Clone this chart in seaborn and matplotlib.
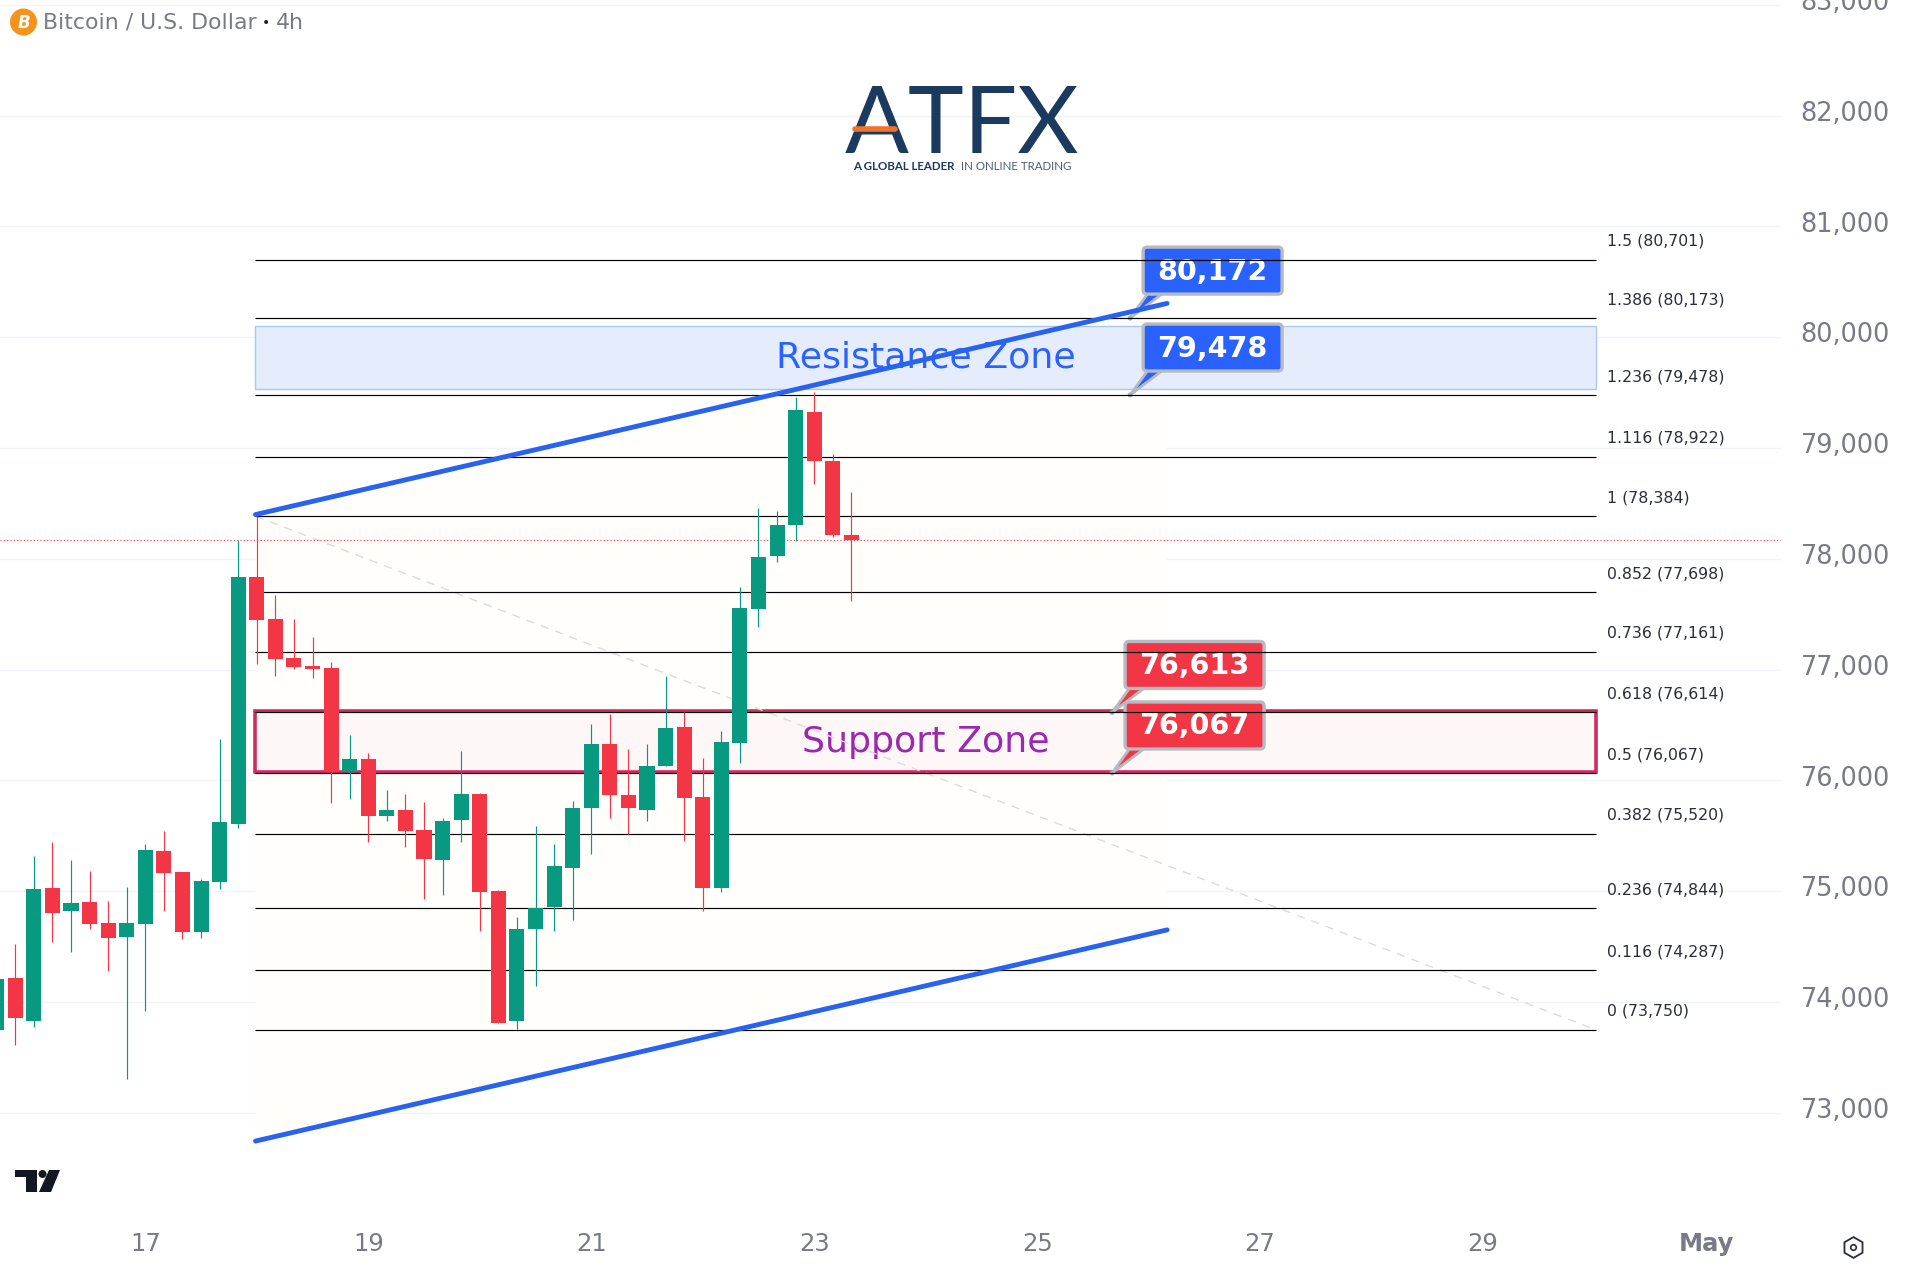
import matplotlib
matplotlib.use("Agg")
import matplotlib.pyplot as plt
import numpy as np
import pandas as pd
import seaborn as sns
from matplotlib.patches import FancyBboxPatch, Polygon, Circle, Rectangle
from matplotlib.lines import Line2D
from matplotlib.transforms import IdentityTransform, ScaledTranslation

# ---- data ----
bar_index = list(range(-8, 39))
opens = [73749,74217,73833,75028,74821,74901,74714,74588,74704,75362,75172,74631,75082,75606,77836,77456,77105,77032,
         77015,76073,76194,75679,75733,75553,75282,75643,75878,75005,73827,74657,74860,75213,75753,76332,75870,75737,
         76129,76485,75851,75025,76340,77546,78023,78309,79327,78885,78219]
closes = [74207,73860,75018,74804,74895,74704,74578,74714,75372,75165,74631,75092,75626,77836,77449,77095,77025,77005,
          76080,76194,75679,75733,75543,75292,75633,75876,74997,73815,74660,74848,75228,75753,76332,75866,75749,76133,
          76477,75839,75025,76348,77554,78012,78309,79339,78881,78211,78168]
highs = [74207,74527,75319,75442,75282,75182,74911,75038,75422,75543,75172,75112,76374,78167,78384,77673,77456,77295,
         77068,76411,76247,75913,75876,75806,75659,76267,75890,75010,74770,75592,75428,75815,76512,76602,76285,76332,
         76943,76614,76203,76450,77749,78454,78427,79460,79503,78944,78607]
lows = [73749,73616,73776,74544,74454,74661,74284,73309,73920,74821,74567,74578,75018,75573,77052,76945,77005,76925,
        75796,75833,75442,75633,75399,74928,74968,75442,74637,73807,73752,74140,74645,74743,75334,75659,75514,75635,
        76129,75451,74821,74997,76160,77385,77969,78157,78677,78196,77620]

fib_ratios = ["1.5","1.386","1.236","1.116","1","0.852","0.736","0.618","0.5","0.382","0.236","0.116","0"]
fib_prices = [80701,80173,79478,78922,78384,77698,77161,76614,76067,75520,74844,74287,73750]

day_ticks = [0,12,24,36,48,60,72,84]
day_labels = ["17","19","21","23","25","27","29","May"]
price_ticks = list(range(73000, 84000, 1000))

start_x, end_x, fib_end_x = 5.93, 54.99, 78.06
channel = pd.DataFrame({
    "x": [start_x, end_x, start_x, end_x],
    "y": [78399, 80305, 72745, 74651],
    "side": ["upper", "upper", "lower", "lower"],
})
resistance_zone = (79528, 80105)
support_zone = (76075, 76625)
last_price = 78168
callouts = [("80,172", 53.0, 80172, "#2962ff"), ("79,478", 53.0, 79478, "#2962ff"),
            ("76,613", 52.03, 76613, "#f23645"), ("76,067", 52.03, 76067, "#f23645")]

GREEN, RED, GREY, BLUE = "#089981", "#f23645", "#787b86", "#2962ff"

# ---- figure ----
sns.set_theme(style="white")
plt.rcParams["font.family"] = ["DejaVu Sans"]
W, H = 1926, 1279
fig = plt.figure(figsize=(W/100, H/100), dpi=100, facecolor="white")
ax = fig.add_axes([0, 1-1207/H, 1781/W, 1207/H])
ax.set_xlim(-7.82, 88.03)
ax.set_ylim(72150, 83043)
sns.despine(ax=ax, left=True, bottom=True, right=True, top=True)

ax.yaxis.tick_right()
ax.set_yticks(price_ticks)
ax.set_yticklabels([f"{p:,}" for p in price_ticks], color=GREY, fontsize=18.4)
ax.set_xticks(day_ticks)
ax.set_xticklabels(day_labels, color=GREY, fontsize=17.5)
ax.get_xticklabels()[-1].set_fontweight("bold")
ax.tick_params(axis="y", length=0, pad=14)
ax.tick_params(axis="x", length=0, pad=18)
shift_up = ScaledTranslation(0, 3.4/72, fig.dpi_scale_trans)
for lab in ax.get_yticklabels():
    lab.set_transform(lab.get_transform() + shift_up)
ax.grid(axis="y", color="#f0f3fa", lw=1.0, zorder=0)
ax.grid(axis="x", visible=False)
ax.set_axisbelow(True)

# channel background
u = channel[channel.side == "upper"]; l = channel[channel.side == "lower"]
ax.add_patch(Polygon(np.column_stack([list(u.x) + list(l.x)[::-1], list(u.y) + list(l.y)[::-1]]),
                     closed=True, fc="#fffefb", ec="none", zorder=1))

# zones
ax.add_patch(Rectangle((start_x, resistance_zone[0]), fib_end_x-start_x, resistance_zone[1]-resistance_zone[0],
                       fc="#e5edfc", ec="#a9c9ee", lw=1, zorder=1.5))
ax.add_patch(Rectangle((start_x, support_zone[0]), fib_end_x-start_x, support_zone[1]-support_zone[0],
                       fc="#fdf7f8", ec="#d02a62", lw=2.6, zorder=1.5))
mid = start_x + (fib_end_x-start_x)/2
ax.text(mid, sum(resistance_zone)/2, "Resistance Zone", color=BLUE, fontsize=26.2, ha="center", va="center", zorder=2)
ax.text(mid, sum(support_zone)/2, "Support Zone", color="#9c27b0", fontsize=26.2, ha="center", va="center", zorder=2)

# diagonal & last price
ax.plot([start_x, fib_end_x], [78384, 73750], color="#dcdcdc", lw=1, ls=(0, (6, 5)), zorder=2)
ax.axhline(last_price, color=RED, lw=0.8, ls=(0, (1, 2)), zorder=2)

# callouts (pixel-sized boxes anchored to data)
idt = IdentityTransform()
fig.canvas.draw()
for label, cx, cy, col in callouts:
    tx, ty = ax.transData.transform((cx, cy))
    ax.add_patch(Polygon([(tx, ty), (tx+18, ty+25), (tx+33, ty+25)], closed=True, fc=col, ec="#b8bac2",
                         lw=2, transform=idt, zorder=2.4, clip_on=False))
    ax.add_patch(Circle((tx, ty), 2.5, fc="#a8aab2", ec="none", transform=idt, zorder=2.4))
    ax.add_patch(FancyBboxPatch((tx+13, ty+24), 139, 47, boxstyle="round,pad=0,rounding_size=4", fc=col,
                                ec="#b8bac2", lw=2.4, transform=idt, zorder=2.5, clip_on=False))
    ax.text(tx+82.5, ty+46.5, label, color="white", fontsize=20.6, fontweight="bold", ha="center", va="center",
            transform=idt, zorder=2.6)

# fib lines
ax.hlines(fib_prices, start_x, fib_end_x, color="black", lw=0.85, zorder=3)
for r, p in zip(fib_ratios, fib_prices):
    ax.annotate(f"{r} ({p:,})", xy=(fib_end_x, p), xytext=(8, 13.2), textcoords="offset points",
                fontsize=11.3, color="#2a2e39", ha="left", va="center", zorder=3)

# candles
df = pd.DataFrame({"n": bar_index, "o": opens, "h": highs, "l": lows, "c": closes})
df["col"] = np.where(df.c >= df.o, GREEN, RED)
ax.vlines(df.n, df.l, df.h, colors=df.col, lw=0.85, zorder=4)
ax.bar(df.n, (df.c-df.o).abs(), bottom=df[["o", "c"]].min(axis=1), width=0.81, color=df.col, lw=0, zorder=4.5)

# channel lines
sns.lineplot(data=channel, x="x", y="y", units="side", estimator=None, color="#2962ee", linewidth=3.5, sort=False,
             solid_capstyle="round", legend=False, zorder=5, ax=ax)
ax.set_xlabel(""); ax.set_ylabel("")
ax.set_xlim(-7.82, 88.03); ax.set_ylim(72150, 83043)

# helpers for page-level furniture
def fx(x): return x/W
def fy(y): return 1-y/H

# header
fig.add_artist(Circle((23.5, H-22), 13.5, fc="#f7931a", ec="none", transform=idt))
fig.text(fx(23.5), fy(22.5), "B", color="white", fontsize=12, fontweight="bold", style="italic", ha="center", va="center")
t1 = fig.text(fx(43), fy(23), "Bitcoin / U.S. Dollar", color=GREY, fontsize=15.8, ha="left", va="center")
t2 = ax.annotate("•", xy=(1, 0.5), xycoords=t1, xytext=(4, 0), textcoords="offset points", color="#222222",
                 fontsize=10, va="center", annotation_clip=False)
ax.annotate("4h", xy=(1, 0.5), xycoords=t2, xytext=(4, 0), textcoords="offset points", color=GREY,
            fontsize=15.8, va="center", annotation_clip=False)

# ATFX logo
NAVY = "#1b3a60"
fig.text(fx(962), fy(153), "ATFX", color=NAVY, fontsize=68, family="Lato", fontweight="normal", ha="center", va="baseline")
fig.add_artist(Line2D([fx(855), fx(895)], [fy(129), fy(129)], color="#ee7430", lw=4, solid_capstyle="round", zorder=10))
fig.text(fx(853), fy(167), "A GLOBAL LEADER", color=NAVY, fontsize=8.3, fontweight="bold", family="Lato", ha="left", va="center")
fig.text(fx(961), fy(167), "IN ONLINE TRADING", color="#4a5f7c", fontsize=8.3, family="Lato", ha="left", va="center")

# TradingView mark
for poly in ([(15, 1170), (37, 1170), (37, 1192), (26, 1192), (26, 1177), (15, 1177)],
             [(49, 1170), (60, 1170), (51, 1192), (39, 1192)]):
    fig.add_artist(Polygon([(x, H-y) for x, y in poly], closed=True, fc="#131722", ec="none", transform=idt))
fig.add_artist(Circle((42.5, H-1174), 4, fc="#131722", ec="none", transform=idt))

# settings icon
fig.add_artist(Line2D([fx(1853)], [fy(1247)], marker="h", ms=15, mfc="white", mec="#2a2e39", mew=1.3, ls=""))
fig.add_artist(Line2D([fx(1853)], [fy(1247)], marker="o", ms=4, mfc="white", mec="#2a2e39", mew=1.2, ls=""))

fig.savefig("out.png", dpi=100)
